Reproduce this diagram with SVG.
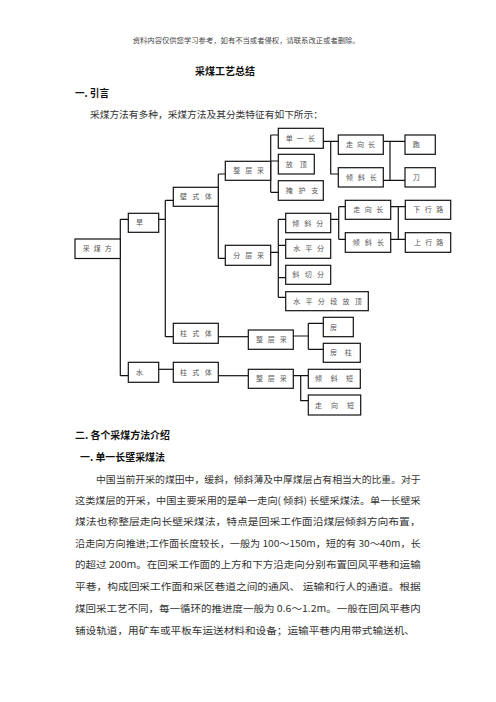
<svg xmlns="http://www.w3.org/2000/svg" width="496" height="702" viewBox="0 0 496 702">
<style>
text{font-family:"Noto Sans CJK SC","Noto Sans",sans-serif;}
.hdr{font-size:6.5px;fill:#444;}
.h{font-size:10px;font-weight:bold;fill:#111;}
.p{font-size:9.6px;fill:#333;}
.box rect{fill:#fff;stroke:#111;stroke-width:1.2;}
.box text{font-size:7px;fill:#555;}
#connectors path{fill:none;stroke:#111;stroke-width:1.2;}
</style>
<rect width="496" height="702" fill="#fff"/>
<text class="hdr" x="132.7" y="43" textLength="227" lengthAdjust="spacingAndGlyphs">资料内容仅供您学习参考，如有不当或者侵权，请联系改正或者删除。</text>
<text class="h" x="195" y="75" textLength="60" lengthAdjust="spacingAndGlyphs">采煤工艺总结</text>
<text class="h" x="75" y="96.5" textLength="34" lengthAdjust="spacingAndGlyphs">一. 引言</text>
<text class="p" x="90" y="117.5" textLength="233" lengthAdjust="spacingAndGlyphs">采煤方法有多种，采煤方法及其分类特征有如下所示：</text>

<g id="connectors">
<path d="M120.3 219.3V375.7M120.3 219.3H128.3M120.3 375.7H128.3"/>
<path d="M158.7 219.3H165.3M165.3 200.3V336.7M165.3 200.3H173.3M165.3 336.7H173.3"/>
<path d="M218.3 174V258.3M218.3 174H225.3M218.3 258.3H225.3"/>
<path d="M270.7 135V192.3M270.7 135H278.3M270.7 161H278.3M270.7 192.3H278.3"/>
<path d="M323.3 141.3H338.3M330.7 141.3V174H338.3"/>
<path d="M383.3 141.3H405M390 141.3V180.3M383.3 180.3H405"/>
<path d="M270.7 252.3H278.3M278.3 219.3V297.3M278.3 219.3H285.7M278.3 245.3H285.7M278.3 277.7H285.7M278.3 297.3H285.7"/>
<path d="M330.7 219.3H338.7M338.7 206.7V239.3M338.7 206.7H345.3M338.7 239.3H345.3"/>
<path d="M390.7 206.7H405.3M398.3 206.7V239.3M390.7 239.3H405.3"/>
<path d="M218.3 336.7H248.3"/>
<path d="M293.3 336H308.3M308.3 323.3V349.3M308.3 323.3H323.3M308.3 349.3H323.3"/>
<path d="M158.7 369.3H173.3"/>
<path d="M218.3 375.7H248.3"/>
<path d="M293.3 375.7H308.3M300.7 375.7V400.7H308.3"/>
</g>

<g id="n-caimeifang" class="box"><rect x="75" y="239" width="45.3" height="19.5"/><text x="82.7" y="251.3" textLength="29" lengthAdjust="spacing">采煤方</text></g>
<g id="n-han" class="box"><rect x="128.3" y="213.3" width="30.4" height="19"/><text x="136" y="225.3">旱</text></g>
<g id="n-bishiti" class="box"><rect x="173.3" y="187.3" width="45" height="19"/><text x="180" y="199.3" textLength="31.7" lengthAdjust="spacing">壁式体</text></g>
<g id="n-zhengcengcai1" class="box"><rect x="225.3" y="161.3" width="45.4" height="19"/><text x="233.3" y="173.3" textLength="30.7" lengthAdjust="spacing">整层采</text></g>
<g id="n-fencengcai" class="box"><rect x="225.3" y="245.3" width="45.4" height="20"/><text x="233.3" y="257.8" textLength="30.7" lengthAdjust="spacing">分层采</text></g>
<g id="n-danyichang" class="box"><rect x="278.3" y="128.3" width="45" height="20"/><text x="285.7" y="140.8" textLength="29.3" lengthAdjust="spacing">单一长</text></g>
<g id="n-fangding" class="box"><rect x="278.3" y="154.3" width="36" height="19.7"/><text x="285.7" y="166.7" textLength="21" lengthAdjust="spacing">放顶</text></g>
<g id="n-yanhuzhi" class="box"><rect x="278.3" y="180.7" width="45" height="19.6"/><text x="285.7" y="193" textLength="32.6" lengthAdjust="spacing">掩护支</text></g>
<g id="n-zouxiangchang1" class="box"><rect x="338.3" y="135" width="45" height="19.3"/><text x="346" y="147.2" textLength="29" lengthAdjust="spacing">走向长</text></g>
<g id="n-qingxiechang1" class="box"><rect x="338.3" y="167.7" width="45" height="19.3"/><text x="346" y="179.9" textLength="30.7" lengthAdjust="spacing">倾斜长</text></g>
<g id="n-pao" class="box"><rect x="405" y="135" width="30.3" height="19.3"/><text x="412.7" y="147.2">跑</text></g>
<g id="n-dao" class="box"><rect x="405" y="167.7" width="30.3" height="19.3"/><text x="412.7" y="179.9">刀</text></g>
<g id="n-qingxiefen" class="box"><rect x="285.7" y="213.3" width="45" height="19.4"/><text x="292.3" y="225.5" textLength="31" lengthAdjust="spacing">倾斜分</text></g>
<g id="n-shuipingfen" class="box"><rect x="285.7" y="239.3" width="45" height="19"/><text x="293.3" y="251.3" textLength="30.7" lengthAdjust="spacing">水平分</text></g>
<g id="n-xieqiefen" class="box"><rect x="285.7" y="265.3" width="45" height="19"/><text x="292.3" y="277.3" textLength="31.7" lengthAdjust="spacing">斜切分</text></g>
<g id="n-shuipingfenduan" class="box"><rect x="285.7" y="291.7" width="82.6" height="19"/><text x="293.3" y="303.7" textLength="68.4" lengthAdjust="spacing">水平分段放顶</text></g>
<g id="n-zouxiangchang2" class="box"><rect x="345.3" y="200.3" width="45.4" height="19"/><text x="353.3" y="212.3" textLength="30" lengthAdjust="spacing">走向长</text></g>
<g id="n-qingxiechang2" class="box"><rect x="345.3" y="232.7" width="45.4" height="19.6"/><text x="352.7" y="245" textLength="31.3" lengthAdjust="spacing">倾斜长</text></g>
<g id="n-xiaxinglu" class="box"><rect x="405.3" y="200.3" width="45.4" height="19"/><text x="413.3" y="212.3" textLength="30" lengthAdjust="spacing">下行路</text></g>
<g id="n-shangxinglu" class="box"><rect x="405.3" y="232.7" width="45.4" height="19.6"/><text x="414" y="245" textLength="29.3" lengthAdjust="spacing">上行路</text></g>
<g id="n-zhushiti1" class="box"><rect x="173.3" y="323.3" width="45" height="20"/><text x="180" y="335.8" textLength="31.7" lengthAdjust="spacing">柱式体</text></g>
<g id="n-shui" class="box"><rect x="128.3" y="362.3" width="30.4" height="20"/><text x="136" y="374.8">水</text></g>
<g id="n-zhushiti2" class="box"><rect x="173.3" y="362.3" width="45" height="20"/><text x="180" y="374.8" textLength="31.7" lengthAdjust="spacing">柱式体</text></g>
<g id="n-zhengcengcai3" class="box"><rect x="248.3" y="330" width="45" height="19.3"/><text x="256" y="342.2" textLength="30.7" lengthAdjust="spacing">整层采</text></g>
<g id="n-zhengcengcai4" class="box"><rect x="248.3" y="369.3" width="45" height="19"/><text x="256" y="381.3" textLength="30.7" lengthAdjust="spacing">整层采</text></g>
<g id="n-fang" class="box"><rect x="323.3" y="317.3" width="30" height="19.4"/><text x="330" y="329.5">房</text></g>
<g id="n-fangzhu" class="box"><rect x="323.3" y="343.3" width="37" height="19"/><text x="330" y="355.3" textLength="21.7" lengthAdjust="spacing">房柱</text></g>
<g id="n-qingxieduan" class="box"><rect x="308.3" y="369.3" width="52" height="19"/><text x="315" y="381.3" textLength="38" lengthAdjust="spacing">倾斜短</text></g>
<g id="n-zouxiangduan" class="box"><rect x="308.3" y="395" width="52.4" height="20"/><text x="315" y="407.5" textLength="39" lengthAdjust="spacing">走向短</text></g>

<text class="h" x="75" y="439" textLength="95" lengthAdjust="spacingAndGlyphs">二. 各个采煤方法介绍</text>
<text class="h" x="80" y="460.5" textLength="85" lengthAdjust="spacingAndGlyphs">一. 单一长壁采煤法</text>
<text class="p" x="96" y="482.5" textLength="324.7" lengthAdjust="spacingAndGlyphs">中国当前开采的煤田中，缓斜，倾斜薄及中厚煤层占有相当大的比重。对于</text>
<text class="p" x="75" y="503.5" textLength="345.7" lengthAdjust="spacingAndGlyphs">这类煤层的开采，中国主要采用的是单一走向( 倾斜) 长壁采煤法。单一长壁采</text>
<text class="p" x="75" y="525" textLength="345.7" lengthAdjust="spacingAndGlyphs">煤法也称整层走向长壁采煤法，特点是回采工作面沿煤层倾斜方向布置，</text>
<text class="p" x="75" y="547" textLength="345.7" lengthAdjust="spacingAndGlyphs">沿走向方向推进;工作面长度较长，一般为 100～150m，短的有 30～40m，长</text>
<text class="p" x="75" y="568" textLength="345.7" lengthAdjust="spacingAndGlyphs">的超过 200m。在回采工作面的上方和下方沿走向分别布置回风平巷和运输</text>
<text class="p" x="75" y="590" textLength="345.7" lengthAdjust="spacingAndGlyphs">平巷，构成回采工作面和采区巷道之间的通风、 运输和行人的通道。根据</text>
<text class="p" x="75" y="611.5" textLength="345.7" lengthAdjust="spacingAndGlyphs">煤回采工艺不同，每一循环的推进度一般为 0.6～1.2m。一般在回风平巷内</text>
<text class="p" x="75" y="633.5" textLength="340" lengthAdjust="spacingAndGlyphs">铺设轨道，用矿车或平板车运送材料和设备；运输平巷内用带式输送机、</text>
</svg>
